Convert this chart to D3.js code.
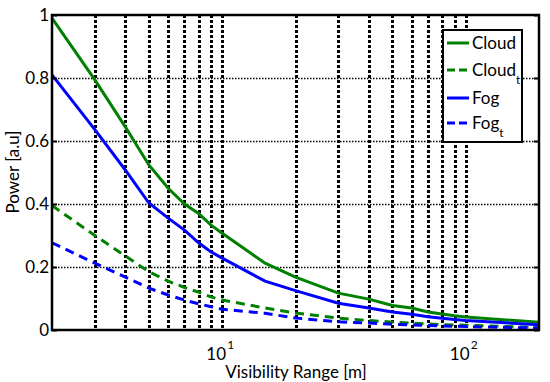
<!DOCTYPE html>
<html><head><meta charset="utf-8">
<script src="https://cdn.jsdelivr.net/npm/d3@7"></script>
<style>body{margin:0;background:#fff}svg{display:block}text{font-family:Lato,"Open Sans",sans-serif;fill:#000}</style>
</head><body><svg id="c" width="550" height="382"></svg>
<script>
const visibility = [2,3,4,5,6,7,8,9,10,15,20,30,40,50,60,70,80,90,100,200];
const cloud  = [0.99,0.794,0.645,0.524,0.45,0.40,0.37,0.333,0.307,0.212,0.168,0.117,0.098,0.078,0.07,0.057,0.051,0.045,0.041,0.025];
const cloudT = [0.395,0.30,0.235,0.185,0.155,0.135,0.12,0.105,0.095,0.07,0.054,0.038,0.03,0.025,0.022,0.019,0.017,0.016,0.015,0.008];
const fog    = [0.81,0.636,0.508,0.403,0.355,0.317,0.277,0.248,0.228,0.155,0.125,0.085,0.07,0.057,0.05,0.042,0.037,0.033,0.03,0.017];
const fogT   = [0.277,0.212,0.168,0.133,0.111,0.095,0.083,0.074,0.066,0.053,0.038,0.026,0.022,0.018,0.016,0.014,0.013,0.012,0.011,0.006];
const xGrid = [3,4,5,6,7,8,9,10,20,30,40,50,60,70,80,90,100];
const xMajor = [10,100];
const yTicks = [0,0.2,0.4,0.6,0.8,1];
const yTickLabels = ["0","0.2","0.4","0.6","0.8","1"];
const series = [
  {name:"Cloud", sub:"", values:cloud, color:"#008000", dash:null},
  {name:"Cloud", sub:"t", values:cloudT, color:"#008000", dash:"9,6"},
  {name:"Fog", sub:"", values:fog, color:"#0000ff", dash:null},
  {name:"Fog", sub:"t", values:fogT, color:"#0000ff", dash:"9,6"}
];

const svg = d3.select("#c");
const L=52, T=15, R=539, B=330;
const x = d3.scaleLog().domain([2,200]).range([L,R]);
const y = d3.scaleLinear().domain([0,1]).range([B,T]);

// grid
const g = svg.append("g");
g.selectAll(".vg").data(xGrid).join("line")
  .attr("x1",d=>Math.round(x(d))+0.5).attr("x2",d=>Math.round(x(d))+0.5).attr("y1",T).attr("y2",B)
  .attr("stroke","#000").attr("stroke-width",3).attr("stroke-dasharray","3,2");
g.selectAll(".hg").data(yTicks.slice(1,-1)).join("line")
  .attr("x1",L).attr("x2",R).attr("y1",d=>Math.round(y(d))+0.5).attr("y2",d=>Math.round(y(d))+0.5)
  .attr("stroke","#000").attr("stroke-width",1.5).attr("stroke-dasharray","1.5,1.5");

// lines
const line = d3.line().x((d,i)=>x(visibility[i])).y(d=>y(d));
series.forEach(s=>{
  svg.append("path").datum(s.values).attr("d",line)
    .attr("fill","none").attr("stroke",s.color).attr("stroke-width",3)
    .attr("stroke-dasharray",s.dash);
});

// axes box
svg.append("rect").attr("x",L).attr("y",T).attr("width",R-L).attr("height",B-T)
  .attr("fill","none").attr("stroke","#000").attr("stroke-width",2.5);

// y ticks
const yAxisL = d3.axisLeft(y).tickValues(yTicks).tickSize(-5).tickFormat((d,i)=>yTickLabels[i]).tickPadding(3);
const ya = svg.append("g").attr("transform",`translate(${L},0)`).call(yAxisL);
ya.select(".domain").remove();
ya.selectAll("line").attr("stroke-width",2);
ya.selectAll("text").style("font-size","17px").attr("font-family","Lato");
const yAxisR = d3.axisRight(y).tickValues(yTicks).tickSize(-5).tickFormat("");
const yr = svg.append("g").attr("transform",`translate(${R},0)`).call(yAxisR);
yr.select(".domain").remove(); yr.selectAll("line").attr("stroke-width",2);

// x tick labels
const xl = svg.append("g");
xMajor.forEach(v=>{
  xl.append("text").attr("x",x(v)-6).attr("y",360).attr("text-anchor","middle").style("font-size","17px").text("10");
  const p = Math.round(Math.log10(v));
  xl.append("text").attr("x",x(v)+5).attr("y",349).style("font-size","12px").text(p);
});

svg.append("text").attr("x",296).attr("y",378).attr("text-anchor","middle").style("font-size","17px").text("Visibility Range [m]");
svg.append("text").attr("transform","translate(19,172) rotate(-90)").attr("text-anchor","middle").style("font-size","17px").text("Power [a.u]");

// legend
const lg = svg.append("g");
lg.append("rect").attr("x",443).attr("y",30).attr("width",79).attr("height",112)
  .attr("fill","#fff").attr("stroke","#000").attr("stroke-width",2);
const ly = [43,70,98,123];
series.forEach((s,i)=>{
  lg.append("line").attr("x1",447).attr("x2",469).attr("y1",ly[i]).attr("y2",ly[i])
    .attr("stroke",s.color).attr("stroke-width",3).attr("stroke-dasharray",s.dash?"8,4":null);
  const t = lg.append("text").attr("x",472).attr("y",ly[i]+6).style("font-size","17px").text(s.name);
  if(s.sub){ t.append("tspan").attr("dy",8).style("font-size","12px").text(s.sub); }
});
</script></body></html>
